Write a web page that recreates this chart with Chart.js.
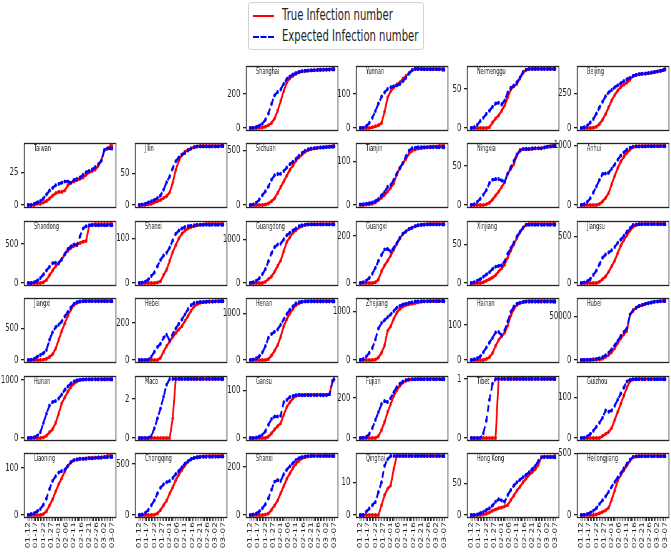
<!DOCTYPE html>
<html>
<head>
<meta charset="utf-8">
<script src="https://cdn.jsdelivr.net/npm/chart.js@4/dist/chart.umd.min.js"></script>
<style>
  html, body { margin: 0; padding: 0; background: #fff; overflow: hidden; }
  #wrap { position: relative; width: 671px; height: 559px; }
  #wrap canvas { position: absolute; }
  #legend {
    position: absolute; left: 248px; top: 2px; width: 176px; height: 48px;
    border: 1px solid #d3d3d3; border-radius: 3px; box-sizing: border-box; background: #fff;
    font-family: 'DejaVu Sans', sans-serif; font-size: 15px; color: #222;
  }
  #legend .row { position: absolute; left: 0; height: 20px; width: 100%; }
  #legend .sw { position: absolute; left: 4px; top: 9px; width: 21px; height: 0; }
  #legend .sw.red { border-top: 2.5px solid #ff0000; }
  #legend .sw.blue { border-top: 2.5px dashed #0000ff; }
  #legend .lab { position: absolute; left: 33px; top: 0; white-space: nowrap; transform: scaleX(0.67); transform-origin: 0 50%; }
</style>
</head>
<body>
<div id="wrap">
  <div id="legend">
    <div class="row" style="top:3px"><span class="sw red"></span><span class="lab">True Infection number</span></div>
    <div class="row" style="top:24px"><span class="sw blue"></span><span class="lab">Expected Infection number</span></div>
  </div>
</div>
<script>
// dates on the x axis (one per day), every 5th one is labelled
const DATES = ['01-12','01-13','01-14','01-15','01-16','01-17','01-18','01-19','01-20','01-21',
  '01-22','01-23','01-24','01-25','01-26','01-27','01-28','01-29','01-30','01-31',
  '02-01','02-02','02-03','02-04','02-05','02-06','02-07','02-08','02-09','02-10',
  '02-11','02-12','02-13','02-14','02-15','02-16','02-17','02-18','02-19','02-20',
  '02-21','02-22','02-23','02-24','02-25','02-26','02-27','02-28','02-29','03-01',
  '03-02','03-03','03-04','03-05','03-06','03-07'];

// day index (into DATES) of each sampled value below
const DAYS = [0,2,4,6,8,10,12,14,16,18,20,22,24,26,28,30,32,34,36,38,40,42,44,46,48,50,52,54,55];

const shanghaiTrue = [0,0,0,1,3,8,16,30,55,100, 157,215,265,290,305,315,325,330,332,334, 335,336,338,339,340,341,342,344,344];
const shanghaiExp  = [0,2,6,14,25,48,85,140,190,210, 225,258,285,300,312,320,326,330,333,335, 336,337,338,339,339,340,340,341,341];
const yunnanTrue = [0,0,0,0,2,5,8,15,48,90, 108,120,128,134,145,153,162,170,174,174, 174,174,174,174,174,174,174,174,174];
const yunnanExp  = [0,1,5,15,30,50,72,92,105,115, 120,123,125,130,138,148,160,170,174,174, 174,173,173,173,173,173,173,172,172];
const neimengguTrue = [0,0,0,0,0,0,1,7,12,16, 22,29,39,49,53,56,63,70,74,75, 75,75,75,75,75,75,75,75,75];
const neimengguExp  = [0,1,4,9,13,18,22,27,31,32, 30,35,45,51,54,58,64,71,74,75, 75,75,75,75,75,75,75,75,75];
const beijingTrue = [0,0,0,0,2,10,29,60,100,150, 200,240,272,298,315,329,350,377,385,390, 393,394,396,400,405,410,415,422,428];
const beijingExp  = [0,5,17,40,65,105,149,190,230,258, 275,295,310,325,340,353,365,377,385,390, 393,395,398,402,406,410,414,420,424];

const taiwanTrue = [0,0,0,1,1,2,3,5,7,9, 10,10,11,15,17,18,19,20,21,23, 25,26,27,30,34,42,43,45,45];
const taiwanExp  = [0,0,1,2,3,5,8,11,13,15, 16,17,18,18,17,19,20,21,23,25, 26,27,29,31,34,42,43,43,43];
const jilinTrue = [0,0,0,1,2,4,6,8,11,14, 20,35,55,70,79,84,87,89,91,92, 93,93,93,93,93,93,93,93,93];
const jilinExp  = [0,1,2,4,6,8,11,15,24,36, 45,58,69,75,79,82,86,89,91,92, 92,92,92,92,92,92,92,93,93];
const sichuanTrue = [0,0,0,0,0,5,15,35,60,110, 164,215,268,320,360,405,435,460,485,500, 510,515,520,525,528,531,534,537,539];
const sichuanExp  = [0,5,20,50,90,125,170,230,272,283, 285,310,342,372,395,420,450,475,495,508, 515,520,522,524,526,528,530,532,533];
const tianjinTrue = [0,0,1,2,3,6,11,17,23,31, 40,50,70,86,96,106,118,125,128,130, 131,132,133,134,135,135,136,136,136];
const tianjinExp  = [1,2,3,4,6,9,14,22,30,42, 46,58,72,84,97,112,125,131,132,133, 133,133,133,133,133,133,133,133,133];
const ningxiaTrue = [0,0,0,0,0,1,3,7,12,17, 23,29,40,46,52,63,70,71,71,71, 71,72,72,72,73,74,75,75,75];
const ningxiaExp  = [0,1,4,8,13,19,28,32,33,33, 31,30,40,48,56,64,69,71,71,71, 72,72,72,72,73,74,74,75,75];
const anhuiTrue = [0,0,0,0,0,0,17,60,120,200, 350,490,620,730,810,876,930,972,984,987, 988,989,989,989,989,989,990,990,990];
const anhuiExp  = [0,15,50,113,210,311,420,520,530,540, 610,680,760,830,880,932,960,975,980,982, 982,982,983,983,983,983,984,984,984];

const shandongTrue = [0,0,0,0,0,10,40,100,160,215, 260,300,370,415,450,475,495,515,530,540, 740,750,756,756,756,757,757,758,758];
const shandongExp  = [0,2,10,30,65,110,160,210,255,260, 250,310,370,436,470,495,485,600,700,730, 738,740,740,740,740,740,740,740,740];
const shanxiTrue = [0,0,0,0,0,0,1,4,18,30, 50,70,85,100,111,118,123,126,128,130, 131,132,133,133,133,133,133,133,133];
const shanxiExp  = [0,1,3,8,16,24,38,52,62,68, 80,96,111,118,123,126,128,129,130,131, 131,131,131,131,131,131,131,131,131];
const guangdongTrue = [0,0,0,0,0,30,90,150,260,390, 515,730,938,1050,1150,1210,1270,1300,1330,1340, 1345,1348,1350,1350,1350,1350,1350,1351,1352];
const guangdongExp  = [0,20,50,110,200,320,500,680,820,880, 900,1000,1092,1150,1200,1250,1300,1325,1335,1340, 1340,1340,1340,1340,1340,1340,1340,1340,1340];
const guangxiTrue = [0,0,0,0,0,3,15,50,75,95, 117,142,167,190,210,220,230,236,242,246, 249,250,251,252,252,252,252,252,252];
const guangxiExp  = [0,3,10,22,40,65,95,120,143,145, 135,150,170,192,210,220,230,236,242,246, 248,249,250,250,250,250,250,250,250];
const xinjiangTrue = [0,0,0,0,1,3,5,7,10,15, 19,24,33,42,50,58,65,71,75,76, 76,76,76,76,76,76,76,76,76];
const xinjiangExp  = [0,1,3,5,8,11,14,18,21,22, 23,28,38,45,52,60,66,71,75,75, 75,75,75,75,75,75,75,75,75];
const jiangsuTrue = [0,0,0,0,0,0,14,40,70,120, 180,240,320,400,460,511,560,600,618,628, 630,631,631,631,631,631,631,631,631];
const jiangsuExp  = [0,5,20,43,85,133,200,270,305,325, 350,385,430,465,505,547,585,619,626,628, 629,629,629,629,629,629,629,629,629];

const jiangxiTrue = [0,0,0,0,0,5,20,50,90,180, 320,460,580,700,800,870,905,925,932,934, 935,935,935,935,935,935,935,935,935];
const jiangxiExp  = [0,3,20,54,80,109,160,320,440,520, 560,610,690,760,830,890,915,928,932,932, 932,932,932,932,932,932,932,932,932];
const hebeiTrue = [0,0,0,0,0,0,0,12,45,75, 100,125,145,165,182,210,236,265,288,300, 308,311,313,315,316,317,318,318,318];
const hebeiExp  = [0,0,0,2,18,45,70,88,120,136, 105,140,170,195,218,245,273,295,307,310, 312,313,314,314,314,315,315,316,316];
const henanTrue = [0,0,0,0,0,0,20,100,200,320, 500,730,880,1000,1100,1180,1220,1255,1265,1270, 1272,1272,1272,1272,1272,1272,1272,1272,1272];
const henanExp  = [0,10,36,80,160,300,480,560,610,660, 760,876,990,1080,1150,1220,1245,1255,1260,1262, 1262,1262,1262,1262,1262,1262,1262,1262,1262];
const zhejiangTrue = [0,0,0,0,0,10,50,150,300,600, 694,850,972,1050,1100,1130,1145,1160,1172,1185, 1200,1205,1208,1210,1212,1213,1214,1215,1215];
const zhejiangExp  = [0,20,69,150,250,420,650,760,820,880, 938,1010,1076,1110,1140,1160,1175,1190,1205,1208, 1210,1210,1210,1210,1210,1210,1210,1210,1210];
const hainanTrue = [0,0,0,0,0,3,8,20,40,57, 68,78,98,127,145,157,162,165,167,168, 168,168,168,168,168,168,168,168,168];
const hainanExp  = [0,2,5,10,22,36,50,63,78,80, 70,85,110,137,152,160,163,165,166,166, 166,166,166,166,166,166,166,166,166];
const hubeiTrue = [41,41,41,45,270,444,729,1423,3554,5806, 9074,13522,19665,24953,29631,33366,51986,56249,59989,62031, 62662,64287,65187,65914,66907,67217,67466,67666,67707];
const hubeiExp  = [0,100,200,400,800,1300,2000,3200,5500,8500, 12500,17000,22000,27500,32000,36500,52000,57000,60000,62000, 63000,64300,65200,65900,66700,67100,67400,67600,67700];

const hunanTrue = [0,0,0,0,0,10,40,100,150,260, 420,600,700,800,880,940,975,1000,1008,1012, 1014,1015,1016,1016,1016,1017,1017,1018,1018];
const hunanExp  = [0,5,15,40,100,260,420,560,620,640, 680,750,830,890,940,975,995,1005,1008,1010, 1010,1010,1010,1010,1010,1010,1010,1010,1010];
const macoTrue = [0,0,0,0,0,0,0,0,0,0, 0,1,3,3,3,3,3,3,3,3, 3,3,3,3,3,3,3,3,3];
const macoExp  = [0,0,0,0,0.1,0.5,1,1.5,2.1,2.7, 3,3,3,3,3,3,3,3,3,3, 3,3,3,3,3,3,3,3,3];
const gansuTrue = [0,0,0,0,0,0,3,10,18,25, 31,49,65,75,83,88,90,90,91,91, 91,91,91,91,91,91,92,120,124];
const gansuExp  = [0,0,1,3,7,14,28,40,45,45, 47,75,80,86,88,90,91,90,90,90, 90,90,90,90,90,90,92,119,123];
const fujianTrue = [0,0,0,0,0,0,10,40,80,130, 170,210,240,262,278,287,292,294,295,296, 296,296,296,296,296,296,296,296,296];
const fujianExp  = [0,2,5,20,50,90,130,170,185,180, 200,230,255,272,283,290,293,294,294,294, 294,294,294,294,294,294,294,294,294];
const tibetTrue = [0,0,0,0,0,0,0,0,0,1, 1,1,1,1,1,1,1,1,1,1, 1,1,1,1,1,1,1,1,1];
const tibetExp  = [0,0,0,0,0.08,0.3,0.65,0.92,1,1, 1,1,1,1,1,1,1,1,1,1, 1,1,1,1,1,1,1,1,1];
const guizhouTrue = [0,0,0,0,0,0,0,5,10,15, 25,45,65,85,105,125,140,145,146,146, 146,146,146,146,146,146,146,146,146];
const guizhouExp  = [0,1,4,10,18,28,38,50,68,65, 68,80,95,110,125,140,144,145,145,145, 145,145,145,145,145,145,145,145,145];

const liaoningTrue = [0,0,0,0,0,2,8,20,33,50, 65,78,92,104,111,116,117,119,119,120, 121,121,121,122,122,123,125,125,125];
const liaoningExp  = [0,2,4,8,13,22,35,55,72,82, 90,93,96,104,112,116,118,119,119,119, 120,120,121,121,121,122,122,123,123];
const chongqingTrue = [0,0,0,0,0,3,16,50,95,140, 210,270,340,395,440,484,520,545,558,565, 570,572,574,575,576,576,576,576,576];
const chongqingExp  = [0,5,20,50,95,145,210,265,300,320, 332,360,400,430,465,500,525,545,555,562, 566,568,568,568,568,569,569,570,570];
const shaanxiTrue = [0,0,0,0,0,2,6,22,40,60, 90,120,150,172,195,212,225,235,240,243, 245,245,245,245,245,245,245,245,245];
const shaanxiExp  = [0,2,6,15,28,45,70,105,138,145, 141,169,188,202,215,228,236,241,243,244, 245,245,245,245,245,245,245,245,245];
const qinghaiTrue = [0,0,0,0,0,0,0,3,6,8, 9,14,18,18,18,18,18,18,18,18, 18,18,18,18,18,18,18,18,18];
const qinghaiExp  = [0,0,1,2,3,4,7,10,15,17, 18,18,18,18,18,18,18,18,18,18, 18,18,18,18,18,18,18,18,18];
const hongkongTrue = [0,0,0,0,1,2,4,7,9,11, 12,14,16,24,31,39,45,52,58,64, 68,73,80,92,93,93,93,93,94];
const hongkongExp  = [0,0,1,3,5,8,11,15,21,25, 23,21,32,40,47,52,56,60,64,68, 73,78,86,92,92,92,92,92,92];
const heilongjiangTrue = [0,0,0,0,0,5,14,25,38,60, 125,200,280,325,365,403,440,472,478,480, 481,481,481,481,481,481,481,481,481];
const heilongjiangExp  = [0,3,8,19,35,56,90,120,150,190, 230,270,305,340,380,417,450,472,476,478, 478,478,478,478,478,478,478,478,478];

// panels in reading order (the first two slots of the grid stay empty)
const PANELS = [
  ['Shanghai', shanghaiTrue, shanghaiExp, 200],
  ['Yunnan', yunnanTrue, yunnanExp, 100],
  ['Neimenggu', neimengguTrue, neimengguExp, 50],
  ['Beijing', beijingTrue, beijingExp, 250],
  ['Taiwan', taiwanTrue, taiwanExp, 25],
  ['Jilin', jilinTrue, jilinExp, 50],
  ['Sichuan', sichuanTrue, sichuanExp, 500],
  ['Tianjin', tianjinTrue, tianjinExp, 100],
  ['Ningxia', ningxiaTrue, ningxiaExp, 50],
  ['Anhui', anhuiTrue, anhuiExp, 1000],
  ['Shandong', shandongTrue, shandongExp, 500],
  ['Shanxi', shanxiTrue, shanxiExp, 100],
  ['Guangdong', guangdongTrue, guangdongExp, 1000],
  ['Guangxi', guangxiTrue, guangxiExp, 200],
  ['Xinjiang', xinjiangTrue, xinjiangExp, 50],
  ['Jiangsu', jiangsuTrue, jiangsuExp, 500],
  ['Jiangxi', jiangxiTrue, jiangxiExp, 500],
  ['Hebei', hebeiTrue, hebeiExp, 200],
  ['Henan', henanTrue, henanExp, 1000],
  ['Zhejiang', zhejiangTrue, zhejiangExp, 1000],
  ['Hainan', hainanTrue, hainanExp, 100],
  ['Hubei', hubeiTrue, hubeiExp, 50000],
  ['Hunan', hunanTrue, hunanExp, 1000],
  ['Maco', macoTrue, macoExp, 2],
  ['Gansu', gansuTrue, gansuExp, 100],
  ['Fujian', fujianTrue, fujianExp, 200],
  ['Tibet', tibetTrue, tibetExp, 1],
  ['Guizhou', guizhouTrue, guizhouExp, 100],
  ['Liaoning', liaoningTrue, liaoningExp, 100],
  ['Chongqing', chongqingTrue, chongqingExp, 500],
  ['Shanxi', shaanxiTrue, shaanxiExp, 200],
  ['Qinghai', qinghaiTrue, qinghaiExp, 10],
  ['Hong Kong', hongkongTrue, hongkongExp, 50],
  ['Heilongjiang', heilongjiangTrue, heilongjiangExp, 500],
];

// layout of the 6x6 grid (plot box positions in page pixels)
const COL_LEFT = [24, 135, 246, 356, 467, 577];
const ROW_TOP = [66, 143, 221, 298, 376, 453];
const BOX_W = 92, BOX_H = 65;

// the reference figure is squeezed sideways, so each canvas is drawn wider
// and shrunk with css by SX (internal pixel sizes below)
const BOX_W_I = 148;
const SX = BOX_W / BOX_W_I;
const PAD_L = 48, PAD_R = 6, PAD_T = 12, PAD_B = 12, X_AXIS_H = 42;

const RED = '#ff0000';
const BLUE = '#0000ff';
const INK = '#222';
const FONT = "'DejaVu Sans', sans-serif";

// frame round the plot box + small province name inside
const panelFrame = {
  id: 'panelFrame',
  afterDatasetsDraw(chart, args, opts) {
    const { ctx, chartArea: a } = chart;
    ctx.save();
    ctx.strokeStyle = INK;
    ctx.lineWidth = 1.3;
    ctx.strokeRect(a.left + 0.5, a.top + 0.5, a.right - a.left - 1, a.bottom - a.top - 1);
    ctx.fillStyle = INK;
    ctx.font = '8px ' + FONT;
    ctx.textBaseline = 'middle';
    ctx.fillText(opts.title, a.left + 16, a.top + 6);
    ctx.restore();
  }
};

function toPoints(vals) {
  return vals.map((v, i) => ({ x: DAYS[i], y: v }));
}

const wrap = document.getElementById('wrap');

PANELS.forEach(([name, trueVals, expVals, step], i) => {
  const slot = i + 2;
  const col = slot % 6, row = Math.floor(slot / 6);
  const isBottom = row === 5;
  const w = PAD_L + BOX_W_I + PAD_R;
  const h = PAD_T + BOX_H + (isBottom ? X_AXIS_H : PAD_B);

  const cv = document.createElement('canvas');
  cv.width = w; cv.height = h;
  cv.style.left = (COL_LEFT[col] - PAD_L * SX) + 'px';
  cv.style.top = (ROW_TOP[row] - PAD_T) + 'px';
  cv.style.width = (w * SX) + 'px';
  cv.style.height = h + 'px';
  wrap.appendChild(cv);

  const top = Math.max(...trueVals, ...expVals);

  new Chart(cv, {
    type: 'line',
    data: {
      datasets: [
        {
          data: toPoints(trueVals), order: 1,
          borderColor: RED, backgroundColor: RED, borderWidth: 2.8,
          pointRadius: 2, pointBorderWidth: 0, pointBackgroundColor: RED, tension: 0
        },
        {
          data: toPoints(expVals), order: 0,
          borderColor: BLUE, backgroundColor: BLUE, borderWidth: 2.8, borderDash: [7, 4],
          pointRadius: 2, pointBorderWidth: 0, pointBackgroundColor: BLUE, tension: 0
        }
      ]
    },
    options: {
      responsive: false,
      animation: false,
      devicePixelRatio: 1,
      layout: { padding: { left: 0, right: PAD_R, top: PAD_T, bottom: isBottom ? 0 : PAD_B } },
      plugins: {
        legend: { display: false },
        tooltip: { enabled: false },
        panelFrame: { title: name }
      },
      scales: {
        x: {
          type: 'linear',
          min: -2.75, max: 57.75,
          display: isBottom,
          afterBuildTicks: s => { s.ticks = DATES.map((d, k) => ({ value: k })); },
          afterFit: s => { s.height = isBottom ? X_AXIS_H : 0; },
          grid: { drawOnChartArea: false, drawTicks: true, tickLength: 3, color: INK, lineWidth: 1 },
          border: { display: false },
          ticks: {
            autoSkip: false, minRotation: 90, maxRotation: 90, padding: 1,
            color: INK, font: { family: FONT, size: 9 },
            callback: v => (v % 5 === 0 ? DATES[v] : '')
          }
        },
        y: {
          min: -0.05 * top, max: 1.05 * top,
          afterBuildTicks: s => {
            const t = [];
            for (let v = 0; v <= s.max; v += step) t.push({ value: v });
            s.ticks = t;
          },
          afterFit: s => { s.width = PAD_L; },
          grid: { drawOnChartArea: false, drawTicks: true, tickLength: 5, color: INK, lineWidth: 1.3 },
          border: { display: false },
          ticks: {
            padding: 4, color: INK, font: { family: FONT, size: 11 },
            callback: v => String(v)
          }
        }
      }
    },
    plugins: [panelFrame]
  });
});
</script>
</body>
</html>
